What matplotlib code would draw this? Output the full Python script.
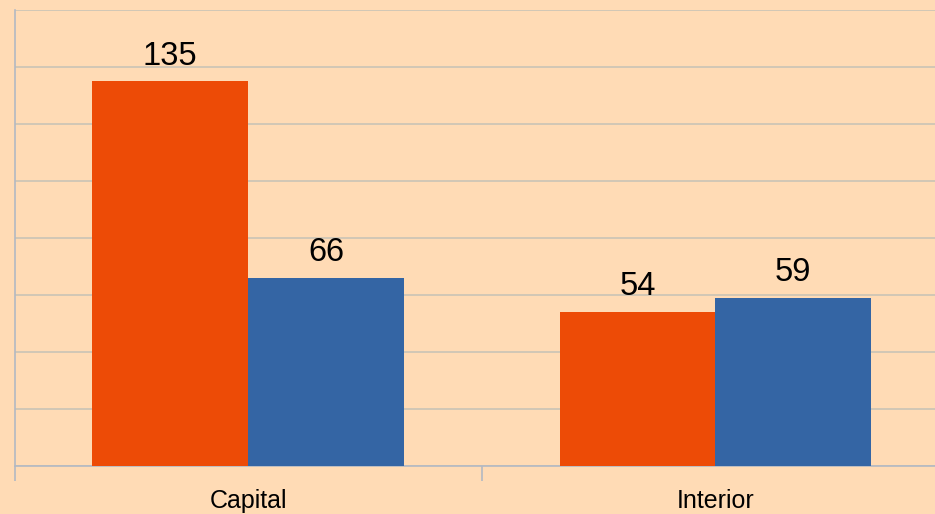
import matplotlib.pyplot as plt
import numpy as np

plt.rcParams['font.family'] = ['Liberation Sans', 'DejaVu Sans']

# Data
categories = ['Capital', 'Interior']
series_a = [135, 54]
series_b = [66, 59]

bg = '#FFDBB5'
fig = plt.figure(figsize=(9.35, 5.14), dpi=100)
fig.set_facecolor(bg)
# axes runs past the right edge, as in the reference
ax = fig.add_axes([14.5 / 935, 48 / 514, 934.5 / 935, 456 / 514])
ax.set_facecolor(bg)

x = np.arange(len(categories))
w = 1 / 3
bars_a = ax.bar(x - w / 2, series_a, width=w, color='#ED4B06', zorder=3)
bars_b = ax.bar(x + w / 2, series_b, width=w, color='#3465A4', zorder=3)

for bars in (bars_a, bars_b):
    for b in bars:
        ax.annotate(str(int(b.get_height())), (b.get_x() + b.get_width() / 2, b.get_height()),
                    xytext=(0, 7), textcoords='offset points', ha='center', va='bottom',
                    fontsize=23.5, color='#000000')

ax.set_xlim(-0.5, len(categories) - 0.5)
ax.set_ylim(0, 160)
ax.set_yticks(np.arange(0, 161, 20))
ax.set_yticklabels([])
ax.tick_params(axis='y', length=0)
ax.grid(axis='y', color='#C9C3B6', linewidth=1.2, zorder=0)

ax.set_xticks([-0.5, 0.5, 1.5], minor=True)
ax.set_xticks(x)
ax.set_xticklabels(categories, fontsize=18)
ax.tick_params(axis='x', which='major', length=0, pad=16.5)
ax.tick_params(axis='x', which='minor', length=11, color='#B3B9C3', width=1.2)

for s in ['top', 'right']:
    ax.spines[s].set_visible(False)
ax.spines['left'].set_color('#B3B9C3')
ax.spines['bottom'].set_color('#B3B9C3')
ax.spines['left'].set_linewidth(1.2)
ax.spines['bottom'].set_linewidth(1.2)

fig.savefig('out.png', dpi=100, facecolor=bg)
